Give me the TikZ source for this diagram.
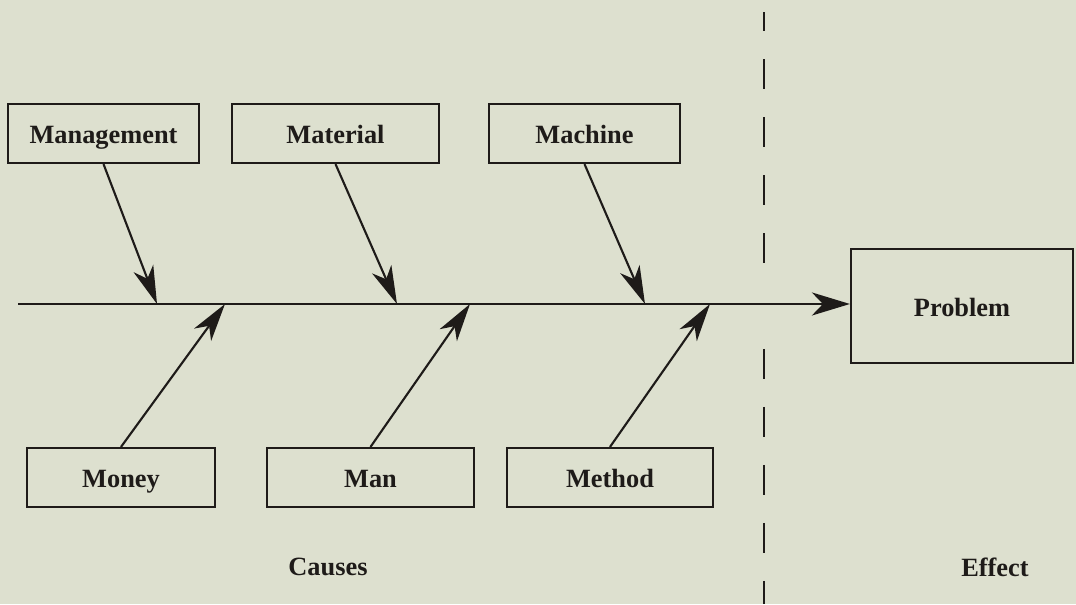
\documentclass[tikz,border=0pt]{standalone}
\usepackage{fontspec}
\setmainfont{Liberation Serif}
\usepackage{xcolor}
\usepackage{tikz}
\usetikzlibrary{arrows.meta, positioning, calc}

\definecolor{paper}{RGB}{221,224,207}
\definecolor{ink}{RGB}{30,27,25}

\begin{document}
\begin{tikzpicture}[
  box/.style={rectangle, draw=ink, line width=1.2pt, minimum width=3.82cm, minimum height=1.18cm, align=center, font=\fontsize{15}{18}\selectfont\bfseries, text=ink, inner sep=0pt, text height=13pt, text depth=1.3pt},
  caption/.style={font=\fontsize{15}{18}\selectfont\bfseries, text=ink},
  bone/.style={-{Stealth[length=7.6mm, width=4.2mm, inset=2.2mm]}, draw=ink, line width=1.2pt},
  spine/.style={-{Stealth[length=7.6mm, width=4.6mm, inset=2.2mm]}, draw=ink, line width=1.6pt},
  divider/.style={draw=ink, line width=1pt, dash pattern=on 0.6cm off 0.56cm}
]
% Paper background fixes the page size.
\fill[paper] (0,0) rectangle (21.52,12.08);

% Cause boxes above and below the spine.
\node[box] (mgmt) at (2.07,9.41) {Management};
\node[box, minimum width=4.14cm] (mat) at (6.71,9.41) {Material};
\node[box] (mach) at (11.69,9.41) {Machine};
\node[box, minimum width=3.76cm] (money) at (2.42,2.53) {Money};
\node[box, minimum width=4.14cm] (man) at (7.41,2.53) {Man};
\node[box, minimum width=4.12cm] (meth) at (12.20,2.53) {Method};

% Effect box.
\node[box, minimum width=4.44cm, minimum height=2.28cm] (prob) at (19.24,5.96) {Problem};

% Spine and the points where the bones meet it.
\coordinate (tail) at (0.36,6.0);
\draw[spine] (tail) -- (tail -| prob.west);
\coordinate (j1) at (3.14,6.0);
\coordinate (j2) at (7.94,6.0);
\coordinate (j3) at (12.90,6.0);
\coordinate (j4) at (4.50,6.0);
\coordinate (j5) at (9.40,6.0);
\coordinate (j6) at (14.20,6.0);

\draw[bone] (mgmt.south) -- (j1);
\draw[bone] (mat.south) -- (j2);
\draw[bone] (mach.south) -- (j3);
\draw[bone] (money.north) -- (j4);
\draw[bone] (man.north) -- (j5);
\draw[bone] (meth.north) -- (j6);

% Dashed divider, broken where the spine passes.
\draw[divider] (15.28,6.82) -- (15.28,11.84);
\draw[divider] (15.28,5.10) -- (15.28,0);

\node[caption] (causes) at (6.56,0.74) {Causes};
\node[caption] (effect) at (19.90,0.74) {Effect};

\end{tikzpicture}
\end{document}
